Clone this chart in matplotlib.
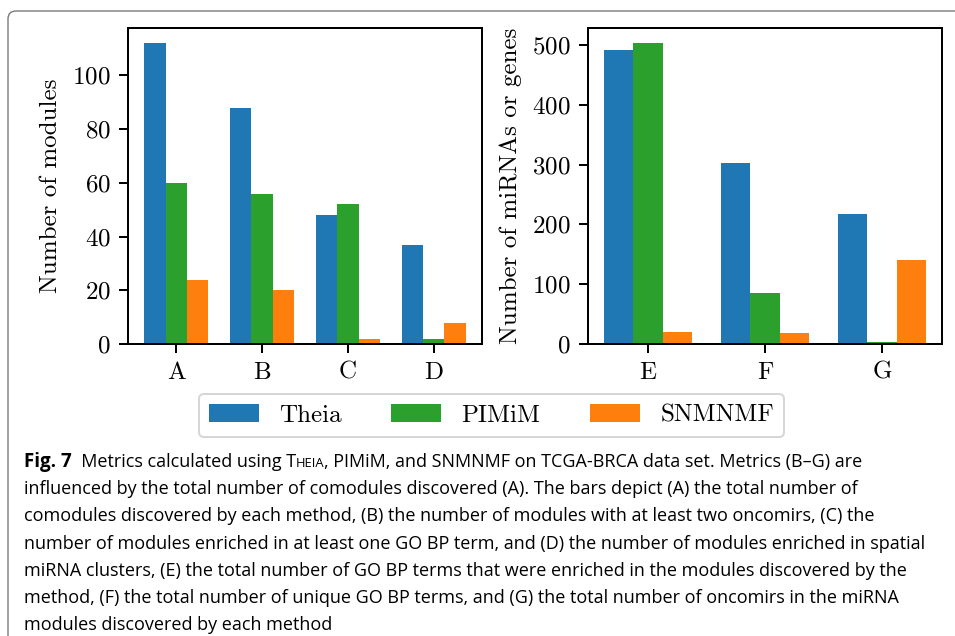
import numpy as np
import matplotlib
matplotlib.use("Agg")
import matplotlib.pyplot as plt
from matplotlib.patches import FancyBboxPatch

# metric groups and counts per method
left_cats = ["A", "B", "C", "D"]
right_cats = ["E", "F", "G"]
methods = ["Theia", "PIMiM", "SNMNMF"]
colors = ["#1f77b4", "#2ca02c", "#ff7f0e"]

theia_left = [112, 88, 48, 37]
pimim_left = [60, 56, 52, 2]
snmnmf_left = [24, 20, 2, 8]

theia_right = [491, 302, 218]
pimim_right = [503, 85, 3]
snmnmf_right = [20, 18, 140]

caption_lines = [
    "influenced by the total number of comodules discovered (A). The bars depict (A) the total number of",
    "comodules discovered by each method, (B) the number of modules with at least two oncomirs, (C) the",
    "number of modules enriched in at least one GO BP term, and (D) the number of modules enriched in spatial",
    "miRNA clusters, (E) the total number of GO BP terms that were enriched in the modules discovered by the",
    "method, (F) the total number of unique GO BP terms, and (G) the total number of oncomirs in the miRNA",
    "modules discovered by each method",
]

sc = 1.8  # everything scaled up from default sizes
plt.rcParams.update({
    "font.family": ["cmr10", "DejaVu Serif"],
    "axes.formatter.use_mathtext": True,
    "font.size": 10 * sc,
    "axes.linewidth": 0.8 * sc,
    "xtick.major.size": 3.5 * sc,
    "ytick.major.size": 3.5 * sc,
    "xtick.major.width": 0.8 * sc,
    "ytick.major.width": 0.8 * sc,
    "xtick.major.pad": 3.5 * sc,
    "ytick.major.pad": 3.5 * sc,
    "axes.labelpad": 4.0 * sc,
})

W, H = 955, 636
fig = plt.figure(figsize=(W / 100, H / 100), dpi=100)

ax1 = fig.add_axes([128 / W, 1 - 344 / H, 354 / W, 316 / H])
ax2 = fig.add_axes([588 / W, 1 - 344 / H, 354 / W, 316 / H])

w = 0.25


def grouped(ax, cats, series):
    x = np.arange(len(cats))
    bars = []
    for i, vals in enumerate(series):
        b = ax.bar(x + (i - 1) * w, vals, w, color=colors[i], label=methods[i])
        bars.append(b)
    ax.set_xticks(x)
    ax.set_xticklabels(cats)
    return bars


bars = grouped(ax1, left_cats, [theia_left, pimim_left, snmnmf_left])
grouped(ax2, right_cats, [theia_right, pimim_right, snmnmf_right])
ax1.set_ylabel("Number of modules")
ax2.set_ylabel("Number of miRNAs or genes")

leg = fig.legend(bars, methods, loc="center", ncol=3,
                 bbox_to_anchor=(491.5 / W, 1 - 415.5 / H), fontsize=10 * sc)
leg.get_frame().set_linewidth(0.8 * sc)
leg.get_frame().set_edgecolor("0.8")

# outer panel border, rounded top-left corner
border = FancyBboxPatch((8 / 100, -0.5), 12, (H - 11) / 100 + 0.5,
                        boxstyle="round,pad=0,rounding_size=0.08",
                        transform=fig.dpi_scale_trans, fill=False,
                        edgecolor="#7a7a7a", linewidth=1.0)
fig.patches.append(border)

# caption text
cap_font = "Open Sans"
cap_size = 13.0
x0 = 24 / W
base = 467
step = 27.2


def yb(i):
    return 1 - (base + step * i) / H


t = fig.text(x0, yb(0), "Fig. 7", family=cap_font, weight="bold",
             fontsize=cap_size + 0.5, va="baseline")
pieces = [("  Metrics calculated using T", cap_size),
          ("HEIA", cap_size * 0.72),
          (", PIMiM, and SNMNMF on TCGA-BRCA data set. Metrics (B\u2013G) are", cap_size)]
for s, fs in pieces:
    t = ax1.annotate(s, xy=(1, yb(0)), xycoords=(t, "figure fraction"),
                     family=cap_font, fontsize=fs, va="baseline", ha="left")

for i, line in enumerate(caption_lines, start=1):
    fig.text(x0, yb(i), line, family=cap_font, fontsize=cap_size, va="baseline")

fig.savefig("out.png", dpi=100)
